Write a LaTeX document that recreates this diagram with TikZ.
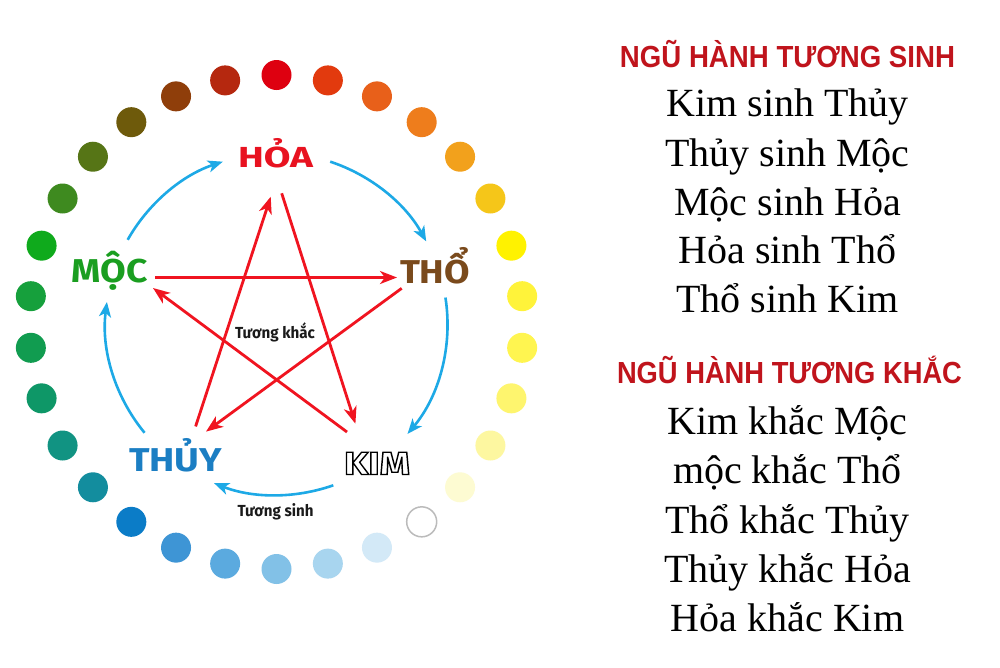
\documentclass[tikz,border=0pt]{standalone}
\usepackage{fontspec}
\usepackage{graphicx}
\setmainfont{Liberation Serif}
\newfontfamily\headfont{Liberation Sans}
\newfontfamily\labfont{Fira Sans}
\usetikzlibrary{arrows.meta,calc}
\definecolor{c0}{HTML}{DE0010}
\definecolor{c1}{HTML}{E23A0E}
\definecolor{c2}{HTML}{E8601A}
\definecolor{c3}{HTML}{EE7D1C}
\definecolor{c4}{HTML}{F2A11C}
\definecolor{c5}{HTML}{F5C619}
\definecolor{c6}{HTML}{FFF200}
\definecolor{c7}{HTML}{FFF33A}
\definecolor{c8}{HTML}{FFF550}
\definecolor{c9}{HTML}{FEF56E}
\definecolor{c10}{HTML}{FDF7A0}
\definecolor{c11}{HTML}{FDFBD2}
\definecolor{c13}{HTML}{D3E9F7}
\definecolor{c14}{HTML}{A8D5EF}
\definecolor{c15}{HTML}{82C1E7}
\definecolor{c16}{HTML}{5BAADF}
\definecolor{c17}{HTML}{3E95D5}
\definecolor{c18}{HTML}{0B7CC7}
\definecolor{c19}{HTML}{138D9E}
\definecolor{c20}{HTML}{119382}
\definecolor{c21}{HTML}{0E9767}
\definecolor{c22}{HTML}{119C50}
\definecolor{c23}{HTML}{16A03C}
\definecolor{c24}{HTML}{0FAA1C}
\definecolor{c25}{HTML}{3E8A1F}
\definecolor{c26}{HTML}{567516}
\definecolor{c27}{HTML}{6E5A0B}
\definecolor{c28}{HTML}{8F3E0A}
\definecolor{c29}{HTML}{B5280F}
\definecolor{ringgray}{HTML}{BBBBBB}
\definecolor{hoacol}{HTML}{E81220}
\definecolor{moccol}{HTML}{1A9E20}
\definecolor{thocol}{HTML}{7A4A1C}
\definecolor{thuycol}{HTML}{1B7EC3}
\definecolor{sinhblue}{HTML}{1DA9E6}
\definecolor{khacred}{HTML}{F01420}
\definecolor{headred}{HTML}{C0141C}
\definecolor{smalltext}{HTML}{1A1A1A}
\newcommand{\outlinetext}[1]{\special{pdf:literal direct 1 Tr 1.2 w 0 G}#1\special{pdf:literal direct 0 Tr}}
\tikzset{
  dot/.style={circle, minimum size=30pt, inner sep=0pt},
  sinh/.style={draw=sinhblue, line width=2.6pt, -{Stealth[length=15pt,width=12pt,inset=4pt]}},
  khac/.style={draw=khacred, line width=2.8pt, -{Stealth[length=17pt,width=13pt,inset=5pt]}},
  body/.style={anchor=base, inner sep=0pt, font=\fontsize{40}{48}\selectfont},
  head/.style={anchor=base, inner sep=0pt, text=headred, font=\headfont\bfseries\fontsize{30.5}{36}\selectfont},
  elem/.style={anchor=base, inner sep=0pt, font=\labfont\bfseries},
  small/.style={anchor=base, inner sep=0pt, text=smalltext, font=\labfont\bfseries\fontsize{16}{19}\selectfont},
}
\begin{document}
\begin{tikzpicture}[x=1pt,y=-1pt]
\useasboundingbox[fill=white] (0,0) rectangle (1000,667);
% ring of dots
\foreach \col [count=\i from 0] in {c0,c1,c2,c3,c4,c5,c6,c7,c8,c9,c10,c11} {
  \node[dot, fill=\col] (d\i) at ({276.5+247*cos(90-12*\i)}, {322-247*sin(90-12*\i)}) {};
}
\node[dot, fill=white, draw=ringgray, line width=1.5pt] (d12) at ({276.5+247*cos(90-12*12)}, {322-247*sin(90-12*12)}) {};
\foreach \col [count=\i from 13] in {c13,c14,c15,c16,c17,c18,c19,c20,c21,c22,c23,c24,c25,c26,c27,c28,c29} {
  \node[dot, fill=\col] (d\i) at ({276.5+247*cos(90-12*\i)}, {322-247*sin(90-12*\i)}) {};
}
% element labels
\node[elem, text=hoacol] (hoa) at (275.5,167.5) {\resizebox{75pt}{\height}{\fontsize{29}{34}\selectfont HỎA}};
\node[elem, text=moccol] (moc) at (110,282) {\resizebox{76pt}{\height}{\fontsize{33}{38}\selectfont MỘC}};
\node[elem, text=thocol] (tho) at (435,283) {\resizebox{70pt}{\height}{\fontsize{33}{38}\selectfont THỔ}};
\node[elem, text=thuycol] (thuy) at (175.5,471.5) {\resizebox{93pt}{\height}{\fontsize{33}{38}\selectfont THỦY}};
\node[small] (tk) at (275,338.5) {\resizebox{80pt}{\height}{Tương khắc}};
\node[small] (ts) at (275.5,516) {\resizebox{76pt}{\height}{Tương sinh}};
% blue arcs (tuong sinh)
\coordinate (C) at (276.5,324);
\coordinate (s1) at ($(C)+(-150.5:171)$);
\coordinate (s2) at ($(C)+(-71.7:171)$);
\coordinate (s3) at ($(C)+(-8.9:171)$);
\coordinate (s4) at ($(C)+(70.6:171)$);
\coordinate (s5) at ($(C)+(140.5:171)$);
\draw[sinh] (s1) arc[start angle=-150.5, end angle=-108.3, radius=171];
\draw[sinh] (s2) arc[start angle=-71.7, end angle=-28.9, radius=171];
\draw[sinh] (s3) arc[start angle=-8.9, end angle=40, radius=171];
\draw[sinh] (s4) arc[start angle=70.6, end angle=111.4, radius=171];
\draw[sinh] (s5) arc[start angle=140.5, end angle=187.4, radius=171];
% red star (tuong khac)
\coordinate (mocR) at (155,277.5);
\coordinate (thoL) at (397,277.5);
\coordinate (thoB) at (401.7,288.3);
\coordinate (thuyA) at (206,431.6);
\coordinate (thuyB) at (195.6,426.4);
\coordinate (hoaA) at (270.7,196.7);
\coordinate (hoaB) at (281.7,193.3);
\coordinate (kimA) at (355.4,423.7);
\coordinate (kimB) at (347,432);
\coordinate (mocA) at (153,288);
\draw[khac] (mocR) -- (thoL);
\draw[khac] (thoB) -- (thuyA);
\draw[khac] (thuyB) -- (hoaA);
\draw[khac] (hoaB) -- (kimA);
\draw[khac] (kimB) -- (mocA);
% right column
\node[head] (h1) at (787.5,67) {\resizebox{335pt}{\height}{NGŨ HÀNH TƯƠNG SINH}};
\node[body] (l1) at (787.5,116) {Kim sinh Thủy};
\node[body] (l2) at (787.5,166) {Thủy sinh Mộc};
\node[body] (l3) at (787.5,215) {Mộc sinh Hỏa};
\node[body] (l4) at (787.5,263) {Hỏa sinh Thổ};
\node[body] (l5) at (787.5,312) {Thổ sinh Kim};
\node[head] (h2) at (789.5,383) {\resizebox{345pt}{\height}{NGŨ HÀNH TƯƠNG KHẮC}};
\node[body] (k1) at (787.5,434) {Kim khắc Mộc};
\node[body] (k2) at (787.5,483) {mộc khắc Thổ};
\node[body] (k3) at (787.5,533) {Thổ khắc Thủy};
\node[body] (k4) at (787.5,582) {Thủy khắc Hỏa};
\node[body] (k5) at (787.5,631) {Hỏa khắc Kim};
% outlined KIM label (drawn last)
\node[elem, text=black] (kim) at (377,474.5) {\resizebox{66pt}{\height}{\fontsize{32}{38}\selectfont\outlinetext{KIM}}};
\end{tikzpicture}
\end{document}
